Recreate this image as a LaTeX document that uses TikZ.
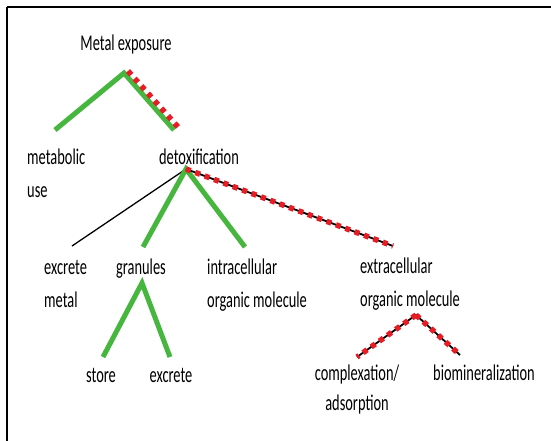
\documentclass[tikz,border=0pt]{standalone}
\usepackage{fontspec}
\setmainfont{Carlito}[FakeStretch=0.64]
\definecolor{lgreen}{RGB}{70,182,62}
\definecolor{lred}{RGB}{232,28,36}
\tikzset{
  lbl/.style={inner sep=0pt, font=\fontsize{22.5}{26}\selectfont},
  gline/.style={draw=lgreen, line width=5pt},
  kline/.style={draw=black, line width=1.8pt},
  rdash/.style={draw=lred, line width=5.5pt, dash pattern=on 5pt off 5pt},
  thin/.style={draw=black, line width=1.3pt}
}
\begin{document}
\begin{tikzpicture}[x=1pt,y=-1pt]
\useasboundingbox (0,0) rectangle (551,441);
% frame
\draw[line width=2pt] (7,7) -- (551,7);
\draw[line width=1.5pt] (7,7) -- (7,441);
% labels
\node[lbl, anchor=base] (metal) at (126,51) {Metal exposure};
\node[lbl, anchor=base west] (metab) at (27,164) {metabolic};
\node[lbl, anchor=base west] (use) at (27,197) {use};
\node[lbl, anchor=base] (detox) at (199,164) {detoxification};
\node[lbl, anchor=base west] (excr) at (44,274) {excrete};
\node[lbl, anchor=base west] (excr2) at (44,307) {metal};
\node[lbl, anchor=base west] (gran) at (116,274) {granules};
\node[lbl, anchor=base west] (intra) at (207,274) {intracellular};
\node[lbl, anchor=base west] (intra2) at (207,307) {organic molecule};
\node[lbl, anchor=base west] (extra) at (360,273) {extracellular};
\node[lbl, anchor=base west] (extra2) at (360,306) {organic molecule};
\node[lbl, anchor=base] (store) at (101,382) {store};
\node[lbl, anchor=base] (excg) at (171,382) {excrete};
\node[lbl, anchor=base] (compl) at (357,380) {complexation/};
\node[lbl, anchor=base] (ads) at (357,410) {adsorption};
\node[lbl, anchor=base west] (biom) at (433,380) {biomineralization};
% coordinates
\coordinate (a1) at (124,73);
\coordinate (a1l) at (55,130);
\coordinate (a1r) at (174,130);
\coordinate (r1s) at (128,71);
\coordinate (r1e) at (178,127);
\coordinate (a2) at (186,169);
\coordinate (a2k) at (72,246);
\coordinate (a2l) at (143,247);
\coordinate (a2r) at (245,247);
\coordinate (a2x) at (393,246);
\coordinate (a3) at (142,283);
\coordinate (a3l) at (103,357);
\coordinate (a3r) at (170,357);
\coordinate (a4) at (416,315);
\coordinate (a4l) at (357,357);
\coordinate (a4r) at (460,355);
% connectors
\draw[gline] (a1l) -- (a1) -- (a1r);
\draw[rdash] (r1s) -- (r1e);
\draw[thin] (a2) -- (a2k);
\draw[gline] (a2l) -- (a2) -- (a2r);
\draw[kline] (a2) -- (a2x);
\draw[rdash] (a2) -- (a2x);
\draw[gline] (a3l) -- (a3) -- (a3r);
\draw[kline] (a4l) -- (a4) -- (a4r);
\draw[rdash] (a4) -- (a4l);
\draw[rdash] (a4) -- (a4r);
\end{tikzpicture}
\end{document}
